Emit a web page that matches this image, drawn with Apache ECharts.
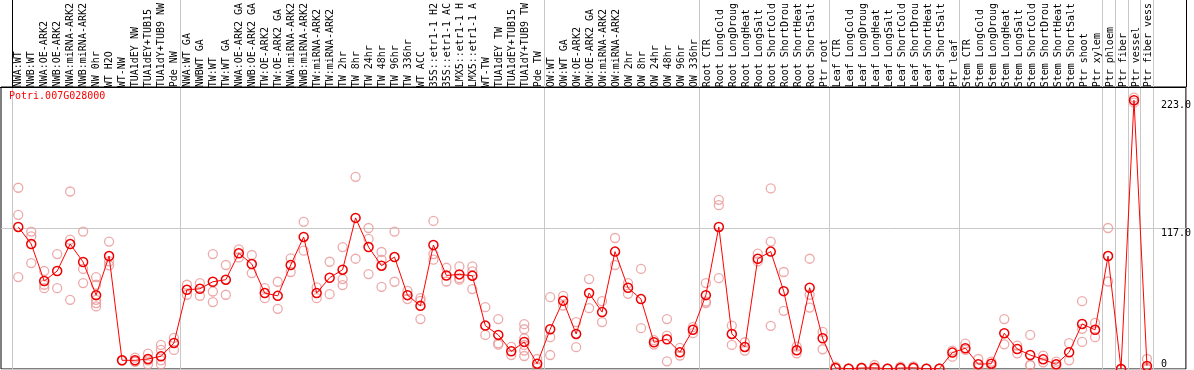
<!DOCTYPE html>
<html><head><meta charset="utf-8">
<script src="https://cdn.jsdelivr.net/npm/echarts@6/dist/echarts.min.js"></script>
<style>html,body{margin:0;padding:0;background:#fff;overflow:hidden}#c{width:1194px;height:370px}</style>
</head><body><div id="c"></div>
<script>
const geneTitle = 'Potri.007G028000';
const categories = [
 'NWA:WT','NWB:WT','NWA:OE-ARK2','NWB:OE-ARK2','NWA:miRNA-ARK2','NWB:miRNA-ARK2','NW 0hr','WT H2O','WT-NW','TUA1dEY NW','TUA1dEY+TUB15','TUA1dY+TUB9 NW','Pde NW',
 'NWA:WT GA','NWBWT GA','TW:WT','TW:WT GA','NWA:OE-ARK2 GA','NWB:OE-ARK2 GA','TW:OE-ARK2','TW:OE-ARK2 GA','NWA:miRNA-ARK2','NWB:miRNA-ARK2','TW:miRNA-ARK2','TW:miRNA-ARK2',
 'TW 2hr','TW 8hr','TW 24hr','TW 48hr','TW 96hr','TW 336hr','WT ACC','35S::etr1-1 H2','35S::etr1-1 AC','LMX5::etr1-1 H','LMX5::etr1-1 A','WT-TW','TUA1dEY TW','TUA1dEY+TUB15','TUA1dY+TUB9 TW','Pde TW',
 'OW:WT','OW:WT GA','OW:OE-ARK2','OW:OE-ARK2 GA','OW:miRNA-ARK2','OW:miRNA-ARK2','OW 2hr','OW 8hr','OW 24hr','OW 48hr','OW 96hr','OW 336hr',
 'Root CTR','Root LongCold','Root LongDroug','Root LongHeat','Root LongSalt','Root ShortCold','Root ShortDrou','Root ShortHeat','Root ShortSalt','Ptr root',
 'Leaf CTR','Leaf LongCold','Leaf LongDroug','Leaf LongHeat','Leaf LongSalt','Leaf ShortCold','Leaf ShortDrou','Leaf ShortHeat','Leaf ShortSalt','Ptr leaf',
 'Stem CTR','Stem LongCold','Stem LongDroug','Stem LongHeat','Stem LongSalt','Stem ShortCold','Stem ShortDrou','Stem ShortHeat','Stem ShortSalt',
 'Ptr shoot','Ptr xylem','Ptr phloem','Ptr fiber','Ptr vessel','Ptr fiber vess'
];
const means = [
 117.9,103.7,73.0,81.3,103.7,88.8,61.3,93.7,7.2,7.2,8.3,10.5,21.6,
 65.7,66.6,72.4,74.1,96.0,87.1,63.0,60.7,86.3,109.6,63.0,75.7,
 82.4,125.4,101.2,85.7,92.9,61.3,52.4,102.9,77.6,78.5,77.4,36.0,28.3,14.7,22.5,4.4,
 33.0,56.6,29.1,63.0,47.2,97.4,67.4,58.0,22.2,24.7,13.9,32.5,
 61.3,117.9,29.1,18.3,91.5,97.4,64.6,15.5,67.4,25.5,
 0.8,0.3,0.8,1.0,0.2,0.8,1.0,0.2,0.3,13.6,
 17.2,4.0,4.4,29.7,16.6,11.6,8.0,3.9,13.9,
 37.4,32.5,93.7,0,223.0,2.5
];
const replicates = [
 [150.4,127.9,76.3],[114.0,110.1,87.9],[81.3,69.9,67.1],[95.4,67.1],[147.3,107.3,57.4],[114.0,83.0,71.3],[76.3,69.9,57.4,54.7,51.9],[105.7,89.3,86.0],[7.2,7.2],[9.4,6.1,6.1],[12.8,7.2,3.9],[20.0,15.8,7.2,3.9],[25.8,15.8],
 [69.9,61.6],[71.3,60.7],[95.4,64.3,55.5],[86.3,61.6],[99.3,92.6],[94.6,79.6],[67.1,58.8],[72.4,49.9],[91.8,80.5],[122.1,98.2],[67.7,58.8],[89.0,62.1],
 [101.2,74.6,69.6],[159.5,91.5],[117.0,107.9,78.8],[97.1,90.7,68.2],[114.0,72.4],[64.9,58.0],[58.8,56.6,41.4],[122.9,95.4,90.7],[84.0,72.6],[85.1,75.4,74.1],[85.1,81.0,66.3],[51.3,28.3],[41.4,21.4,20.3],[18.3,11.6],[37.2,33.0,25.5,20.0,15.3,10.8],[8.3,1.1],
 [59.6,26.4,11.6],[60.7,52.7],[38.9,18.1],[74.6,50.5],[56.3,38.9],[108.7,86.3],[71.3,62.4],[83.0,33.9],[23.9,20.3],[41.4,27.7,6.4],[17.5,11.1],[34.7,29.7],
 [71.3,56.0,54.7],[140.4,135.9,75.4],[36.0,20.0],[22.2,15.3],[95.7,89.3],[149.8,105.7,35.8],[80.5,48.3],[18.6,13.0],[91.5,61.6,51.0],[30.8,16.4],
 [1.9,0.5],[0.5,0.2],[1.2,0.5],[3.3,0],[0.4,0.1],[1.9,0.2],[2.2,0.3],[0.4,0.1],[0.5,0.2],[15.3,10.2],
 [21.1,15.8],[8.3,1.0],[6.1,2.5],[41.4,20.5],[19.4,13.0],[28.3,3.3,3.3],[11.1,5.5],[6.1,1.9],[21.4,7.2],
 [56.3,33.3,22.5],[38.3,26.4],[117.0,72.6],[0,0],[225.2,221.0],[8.3,0.5,0]
];
const yTickLabels = [0, 117, 223];
const groupEnds = [-1, 12, 40, 52, 62, 72, 83, 84, 85, 86, 87];

const mono = 'DejaVu Sans Mono';
const chart = echarts.init(document.getElementById('c'), null, {renderer: 'canvas'});

const repData = [];
replicates.forEach((reps, i) => reps.forEach(v => repData.push([i, v])));

const option = {
  animation: false,
  backgroundColor: '#ffffff',
  title: {
    text: geneTitle, left: 9, top: 91, padding: 0,
    textStyle: {color: '#ff0000', fontSize: 10, fontFamily: mono, fontWeight: 'normal'}
  },
  grid: [
    {left: 1, right: 6, top: 87, height: 282, show: true, borderColor: '#000', borderWidth: 1, backgroundColor: 'transparent'},
    {left: 11.8, width: 1143.6, top: 87, height: 10, show: false}
  ],
  xAxis: [
    {type: 'value', gridIndex: 0, min: -1.33, max: 90, show: false, splitLine: {show: false}},
    {type: 'category', gridIndex: 1, data: categories, position: 'top', boundaryGap: true,
     axisLine: {show: false}, axisTick: {show: false}, splitLine: {show: false},
     axisLabel: {rotate: 90, interval: 0, fontFamily: mono, fontSize: 10, color: '#000', margin: 6}}
  ],
  yAxis: [
    {type: 'value', gridIndex: 0, min: 0, max: 234, interval: 117, position: 'right',
     axisLine: {show: false}, axisTick: {show: false},
     splitLine: {show: true, lineStyle: {color: '#c8c8c8', width: 1}},
     axisLabel: {customValues: yTickLabels, margin: -25, fontFamily: mono, fontSize: 10, color: '#000',
       verticalAlign: 'top', verticalAlignMinLabel: 'bottom',
       formatter: v => v === 0 ? '0' : v.toFixed(1)}},
    {type: 'value', gridIndex: 1, show: false, splitLine: {show: false}}
  ],
  series: [
    {type: 'scatter', xAxisIndex: 0, yAxisIndex: 0, data: repData, symbol: 'circle', symbolSize: 9, silent: true, z: 2,
     itemStyle: {color: 'rgba(0,0,0,0)', borderColor: '#e99595', borderWidth: 1.3}},
    {type: 'line', xAxisIndex: 0, yAxisIndex: 0, data: means.map((v, i) => [i, v]), symbol: 'circle', symbolSize: 9,
     showSymbol: true, silent: true, z: 3, lineStyle: {color: '#ff0000', width: 1},
     itemStyle: {color: 'rgba(0,0,0,0)', borderColor: '#ee0000', borderWidth: 1.5}}
  ]
};
chart.setOption(option);

const px = v => chart.convertToPixel({xAxisIndex: 0}, v);
const yTopPlot = chart.convertToPixel({yAxisIndex: 0}, 234);
const yBotPlot = chart.convertToPixel({yAxisIndex: 0}, 0);
const right = px(90);
const graphics = [];
groupEnds.forEach(idx => {
  const x = Math.round(px(idx + 0.5)) + 0.5;
  graphics.push({type: 'line', silent: true, z: 1, shape: {x1: x, y1: 0, x2: x, y2: yTopPlot},
    style: {stroke: idx < 0 ? '#000' : '#c8c8c8', lineWidth: 1}});
  graphics.push({type: 'line', silent: true, z: 1, shape: {x1: x, y1: yTopPlot, x2: x, y2: yBotPlot},
    style: {stroke: '#c8c8c8', lineWidth: 1}});
});
graphics.push({type: 'line', silent: true, z: 5, shape: {x1: Math.round(right) + 0.5, y1: 0, x2: Math.round(right) + 0.5, y2: yTopPlot},
  style: {stroke: '#000', lineWidth: 1}});
graphics.push({type: 'line', silent: true, z: 5, shape: {x1: 0, y1: Math.round(yTopPlot) + 0.5, x2: right, y2: Math.round(yTopPlot) + 0.5},
  style: {stroke: '#000', lineWidth: 1}});
chart.setOption({graphic: graphics});
</script></body></html>
